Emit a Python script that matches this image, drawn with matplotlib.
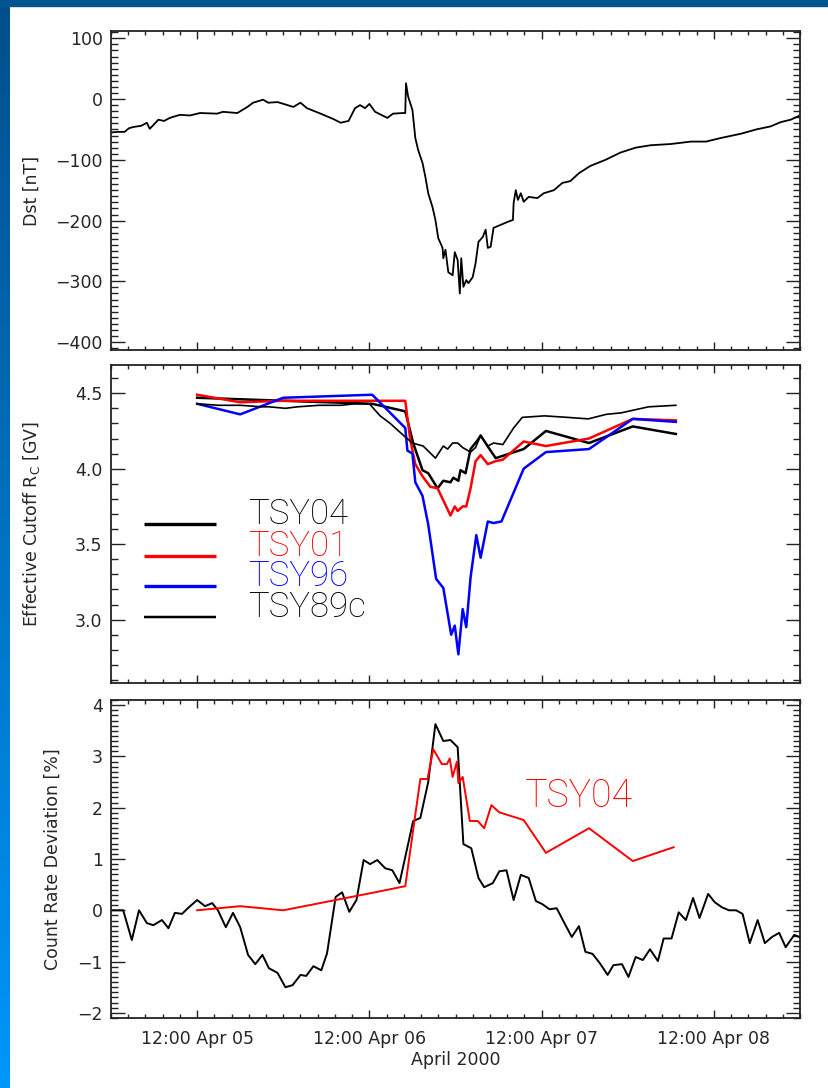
import numpy as np
import pandas as pd
import matplotlib
matplotlib.use('Agg')
import matplotlib.pyplot as plt
import matplotlib.dates as mdates
from matplotlib.ticker import MultipleLocator
from matplotlib.colors import LinearSegmentedColormap
from matplotlib.patches import Rectangle

plt.rcParams['font.family'] = ['DejaVu Sans']
TXT = '#262626'

T0 = pd.Timestamp('2000-04-05 00:00')

# --- Dst (hours since Apr 05 00:00, nT)
dst_h = [0, 1.0, 1.9, 2.5, 3.1, 4.2, 5.0, 5.4, 6.6, 7.4, 8.2, 9.6, 11.0, 12.4, 14.8, 15.6, 17.6, 19.0, 19.8,
         21.2, 21.9, 23.2, 24.6, 25.4, 26.4, 27.3, 29.2, 31.0, 32.0, 33.1, 34.0,
         34.7, 35.4, 36.0, 36.8, 38.5, 39.3, 40.7, 41.0, 41.1, 41.4, 42.0, 42.4,
         42.8, 43.4, 43.8, 44.2, 44.8, 45.2, 45.6, 46.2, 46.3, 46.6, 47.0, 47.6,
         47.9, 48.3, 48.6, 48.8, 49.1, 49.5, 49.8, 50.4, 50.8, 51.2, 51.8, 52.2,
         52.5, 52.9, 53.3, 54.3, 55.3, 56.0, 56.1, 56.4, 56.7, 57.1, 57.5, 58.2,
         59.4, 60.3, 61.7, 62.9, 64.0, 65.2, 66.8, 68.9, 71.0, 73.1, 75.2, 78.0,
         80.8, 82.9, 85.0, 87.8, 89.9, 91.9, 93.3, 94.7, 96.0]
dst = [-55, -54, -54, -48, -46, -44, -39, -49, -34, -36, -31, -26, -27, -23, -24, -21, -23, -13, -6,
       -1, -6, -5, -10, -13, -6, -15, -24, -33, -39, -36, -15,
       -10, -15, -8, -21, -31, -24, -23, -23, 26, 4, -18, -64,
       -84, -105, -128, -155, -178, -199, -229, -245, -262, -248, -285, -290,
       -252, -265, -320, -262, -309, -298, -303, -293, -270, -235, -227, -215,
       -245, -243, -212, -207, -202, -199, -171, -150, -166, -155, -169, -161,
       -163, -155, -150, -138, -135, -122, -110, -100, -88, -80, -76, -74,
       -70, -70, -64, -57, -50, -45, -38, -34, -27]

# --- Effective cutoff rigidity [GV]
t04_h = [12.0, 18.0, 24.0, 36.4, 41.0, 42.1, 43.4, 44.2, 45.5, 46.3, 47.3, 47.7,
         48.4, 48.7, 49.4, 50.1, 51.1, 51.5, 52.6, 53.6, 57.5, 60.6, 66.6, 72.7, 78.7]
t04_rc = [4.47, 4.46, 4.45, 4.43, 4.38, 4.17, 3.99, 3.97, 3.87, 3.92, 3.91, 3.94,
          3.92, 3.99, 3.97, 4.13, 4.19, 4.22, 4.14, 4.07, 4.13, 4.25, 4.17, 4.28, 4.23]

t01_h = [12.0, 18.0, 24.0, 36.4, 41.0, 41.7, 42.4, 43.4, 44.5, 45.5, 47.3, 47.9,
         48.3, 49.0, 49.5, 50.1, 50.8, 51.5, 52.5, 53.6, 54.6, 57.5, 60.6, 66.6, 72.7, 78.7]
t01_rc = [4.49, 4.44, 4.45, 4.45, 4.45, 4.19, 4.03, 3.95, 3.88, 3.87, 3.69, 3.75,
          3.72, 3.75, 3.75, 3.87, 4.05, 4.09, 4.03, 4.05, 4.06, 4.18, 4.15, 4.20, 4.33, 4.32]

t96_h = [12.0, 18.0, 24.0, 36.4, 41.0, 41.3, 42.0, 42.4, 43.4, 44.2, 45.3, 46.3,
         47.4, 47.9, 48.4, 49.0, 49.5, 50.1, 50.9, 51.5, 52.5, 53.3, 54.4, 57.5,
         60.6, 66.6, 72.7, 78.7]
t96_rc = [4.43, 4.36, 4.47, 4.49, 4.27, 4.12, 4.10, 3.91, 3.82, 3.63, 3.27, 3.21,
          2.90, 2.96, 2.77, 3.07, 2.95, 3.28, 3.56, 3.41, 3.65, 3.64, 3.65, 4.00,
          4.11, 4.13, 4.33, 4.31]

t89_h = [12, 15, 18, 21, 22, 24.3, 26, 29, 32, 34, 36, 37.5, 38.9, 41.0, 42.0,
         43.5, 45.2, 46.3, 46.9, 47.6, 48.3, 49.0, 50.1, 50.8, 51.5, 52.5, 53.3,
         54.6, 56.1, 57.3, 60.4, 63.6, 66.5, 69.0, 71.1, 74.9, 78.7]
t89_rc = [4.43, 4.42, 4.42, 4.41, 4.41, 4.40, 4.41, 4.42, 4.42, 4.43, 4.43, 4.35,
          4.30, 4.21, 4.17, 4.15, 4.07, 4.15, 4.13, 4.17, 4.17, 4.14, 4.11, 4.14,
          4.22, 4.15, 4.17, 4.16, 4.27, 4.34, 4.35, 4.34, 4.33, 4.36, 4.37, 4.41, 4.42]

models = ['TSY04', 'TSY01', 'TSY96', 'TSY89c']
model_colors = ['black', '#ff0000', '#0000ff', 'black']
model_lw = [1.8, 1.8, 1.8, 1.2]

# --- Count rate deviation [%]
obs_h = [0, 1.7, 2.9, 3.9, 5.0, 5.9, 7.1, 8.0, 8.9, 9.9, 10.7, 12.0, 13.1, 14.1,
         14.9, 16.0, 17.0, 18.0, 19.1, 20.1, 21.1, 22.0, 23.2, 24.3, 25.3, 26.4,
         27.2, 28.2, 29.3, 30.1, 31.3, 32.2, 33.2, 34.2, 35.2, 36.1, 37.1, 38.2,
         39.2, 40.2, 41.3, 42.1, 43.1, 44.2, 45.2, 46.3, 47.3, 48.3, 49.1, 50.2,
         51.2, 52.0, 53.2, 54.1, 55.1, 56.1, 57.1, 58.2, 59.2, 60.1, 61.1, 62.1,
         63.1, 64.2, 65.2, 66.1, 67.1, 68.1, 69.2, 70.0, 71.2, 72.1, 73.1, 74.1,
         75.1, 76.2, 77.0, 78.1, 79.1, 80.1, 81.1, 82.0, 83.2, 84.1, 85.1, 86.1,
         87.1, 88.0, 89.0, 90.1, 91.1, 92.1, 93.1, 94.0, 95.2, 95.9]
obs_dev = [0.0, 0.0, -0.58, 0.0, -0.25, -0.29, -0.19, -0.35, -0.05, -0.07, 0.04, 0.2,
           0.08, 0.14, 0.0, -0.33, -0.05, -0.33, -0.87, -1.05, -0.87, -1.13, -1.22,
           -1.5, -1.46, -1.26, -1.28, -1.09, -1.17, -0.84, 0.26, 0.35, -0.03, 0.2,
           0.98, 0.9, 0.98, 0.82, 0.78, 0.53, 1.23, 1.74, 1.8, 2.5, 3.63, 3.3, 3.32,
           3.18, 1.29, 1.21, 0.63, 0.45, 0.53, 0.76, 0.78, 0.2, 0.69, 0.63, 0.18,
           0.12, 0.02, 0.04, -0.23, -0.52, -0.31, -0.81, -0.85, -1.03, -1.26, -1.07,
           -1.05, -1.3, -0.91, -0.97, -0.76, -0.99, -0.55, -0.55, -0.04, -0.19, 0.24,
           -0.15, 0.32, 0.16, 0.06, 0.0, 0.0, -0.07, -0.64, -0.19, -0.64, -0.52,
           -0.44, -0.72, -0.48, -0.52]

pred_h = [12.0, 18.0, 24.0, 36.4, 41.0, 43.1, 44.1, 44.9, 46.1, 46.8, 47.2, 47.6,
          48.2, 48.4, 49.0, 50.0, 51.1, 52.0, 53.0, 54.1, 57.5, 60.6, 66.6, 72.7, 78.4]
pred_dev = [0.0, 0.08, 0.0, 0.34, 0.47, 2.56, 2.56, 3.14, 2.85, 2.85, 2.96, 2.6,
            2.9, 2.48, 2.6, 1.74, 1.74, 1.6, 2.05, 1.91, 1.76, 1.12, 1.6, 0.96, 1.23]


def to_time(h):
    return (T0 + pd.to_timedelta(np.asarray(h, dtype=float), unit='h')).to_numpy()


fig = plt.figure(figsize=(8.29, 10.88), dpi=100)
fig.patch.set_facecolor('white')

# slide decoration: blue strips on left and top
bg = fig.add_axes([0, 0, 10 / 829, 1])
bg.imshow(np.linspace(0, 1, 256)[:, None], aspect='auto', origin='lower',
          cmap=LinearSegmentedColormap.from_list('strip', ['#0096fa', '#004f8a']))
bg.axis('off')
fig.add_artist(Rectangle((0, 1 - 6 / 1088), 1, 6 / 1088, transform=fig.transFigure,
                         color='#00558f', zorder=5))

L, W = 111 / 829, 689 / 829
ax1 = fig.add_axes([L, 1 - 350 / 1088, W, 319 / 1088])
ax2 = fig.add_axes([L, 1 - 683 / 1088, W, 318 / 1088])
ax3 = fig.add_axes([L, 1 - 1018 / 1088, W, 318 / 1088])

for ax in (ax1, ax2, ax3):
    ax.set_xlim(to_time([0])[0], to_time([96])[0])
    ax.xaxis.set_major_locator(mdates.HourLocator(byhour=12))
    ax.xaxis.set_major_formatter(mdates.DateFormatter('%H:%M %b %d'))
    ax.xaxis.set_minor_locator(MultipleLocator(0.1))
    ax.tick_params(which='both', direction='in', top=True, right=True,
                   labelsize=12.5, labelcolor=TXT, color='#222222', width=1)
    ax.tick_params(axis='y', which='major', length=10, pad=6)
    ax.tick_params(axis='y', which='minor', length=5)
    ax.tick_params(axis='x', which='major', length=6, pad=9)
    ax.tick_params(axis='x', which='minor', length=3)
    for s in ax.spines.values():
        s.set_linewidth(1.3)
        s.set_color('#222222')

ax1.tick_params(labelbottom=False)
ax2.tick_params(labelbottom=False)

# top: Dst
ax1.plot(to_time(dst_h), dst, color='black', lw=1.3)
ax1.set_ylim(-413, 112)
ax1.yaxis.set_major_locator(MultipleLocator(100))
ax1.yaxis.set_minor_locator(MultipleLocator(10))
ax1.set_ylabel('Dst [nT]', fontsize=12.5, color=TXT)
ax1.yaxis.set_label_coords(-0.102, 0.5)

# middle: cutoff rigidity
series = [(t04_h, t04_rc), (t01_h, t01_rc), (t96_h, t96_rc), (t89_h, t89_rc)]
for (h, rc), c, lw in zip(series, model_colors, model_lw):
    ax2.plot(to_time(h), rc, color=c, lw=lw)
ax2.set_ylim(2.58, 4.687)
ax2.yaxis.set_major_locator(MultipleLocator(0.5))
ax2.yaxis.set_minor_locator(MultipleLocator(0.1))
ax2.set_ylabel(r'Effective Cutoff R$_{\rm C}$ [GV]', fontsize=12.5, color=TXT)
ax2.yaxis.set_label_coords(-0.1, 0.5)

big = dict(family=['Roboto', 'DejaVu Sans'], fontsize=25, fontweight='light',
           va='baseline', ha='left')
key_y = [0.50, 0.40, 0.305, 0.2075]
for name, c, lw, yk in zip(models, model_colors, model_lw, key_y):
    ax2.plot([0.048, 0.152], [yk, yk], transform=ax2.transAxes, color=c,
             lw=lw + 0.6, solid_capstyle='butt')
    ax2.text(0.199, yk, name, transform=ax2.transAxes, color=c, **big)

# bottom: count rate deviation
ax3.plot(to_time(obs_h), obs_dev, color='black', lw=1.4)
ax3.plot(to_time(pred_h), pred_dev, color='#ff0000', lw=1.4)
ax3.set_ylim(-2.1, 4.1)
ax3.yaxis.set_major_locator(MultipleLocator(1))
ax3.yaxis.set_minor_locator(MultipleLocator(0.1))
ax3.set_ylabel('Count Rate Deviation [%]', fontsize=12.5, color=TXT)
ax3.yaxis.set_label_coords(-0.071, 0.5)
ax3.set_xlabel('April 2000', fontsize=12.5, color=TXT, labelpad=2)
ax3.text(0.601, 0.6635, 'TSY04', transform=ax3.transAxes, color='#ff0000',
         **dict(big, fontsize=27))

fig.savefig('out.png', dpi=100)
